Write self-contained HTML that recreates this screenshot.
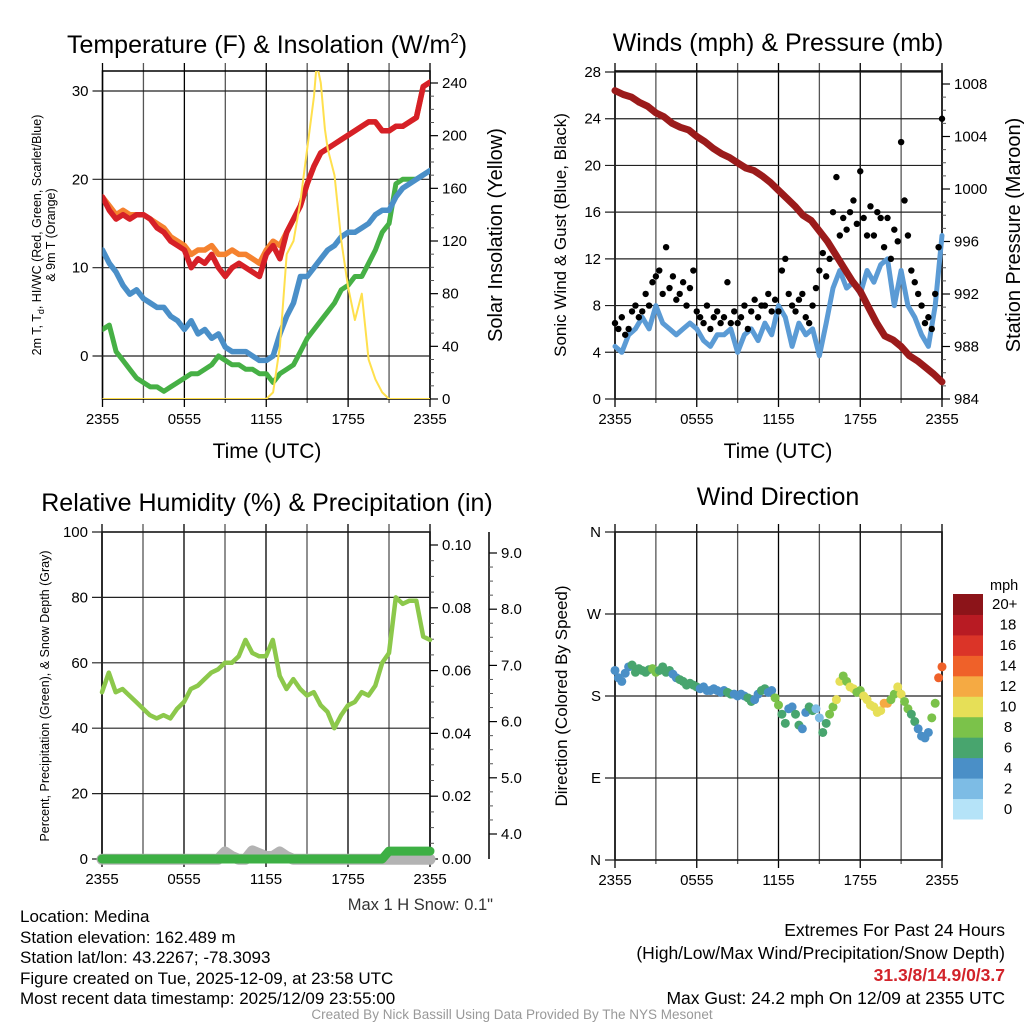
<!DOCTYPE html>
<html><head><meta charset="utf-8"><style>
body{margin:0;background:#fff}
svg{display:block;font-family:"Liberation Sans",Arial,sans-serif}
</style></head><body>
<svg id="c" width="1024" height="1024" viewBox="0 0 1024 1024" xmlns="http://www.w3.org/2000/svg">
<text x="267" y="53" font-size="25" text-anchor="middle">Temperature (F) &amp; Insolation (W/m<tspan dy="-10" font-size="15">2</tspan><tspan dy="10">)</tspan></text>
<text x="778" y="51" font-size="25" text-anchor="middle">Winds (mph) &amp; Pressure (mb)</text>
<text x="267" y="511" font-size="25" text-anchor="middle">Relative Humidity (%) &amp; Precipitation (in)</text>
<text x="778" y="505" font-size="25" text-anchor="middle">Wind Direction</text>
<text x="267" y="458" font-size="21" text-anchor="middle">Time (UTC)</text>
<text x="778" y="458" font-size="21" text-anchor="middle">Time (UTC)</text>
<text transform="translate(41,235) rotate(-90)" font-size="12.5" text-anchor="middle"><tspan x="0" dy="0">2m T, T<tspan font-size="9" dy="3">d</tspan><tspan dy="-3">, HI/WC (Red, Green, Scarlet/Blue)</tspan></tspan><tspan x="0" dy="14">&amp; 9m T (Orange)</tspan></text>
<text transform="translate(502,235) rotate(-90)" font-size="20" text-anchor="middle">Solar Insolation (Yellow)</text>
<text transform="translate(566,235) rotate(-90)" font-size="17" text-anchor="middle">Sonic Wind &amp; Gust (Blue, Black)</text>
<text transform="translate(1020,235) rotate(-90)" font-size="20" text-anchor="middle">Station Pressure (Maroon)</text>
<text transform="translate(49,696) rotate(-90)" font-size="12.5" text-anchor="middle">Percent, Precipitation (Green), &amp; Snow Depth (Gray)</text>
<text transform="translate(567,696) rotate(-90)" font-size="17" text-anchor="middle">Direction (Colored By Speed)</text>
<text x="493" y="910" font-size="16.5" text-anchor="end" fill="#333">Max 1 H Snow: 0.1"</text>
<g font-size="17">
<text x="20" y="922">Location: Medina</text>
<text x="20" y="943">Station elevation: 162.489 m</text>
<text x="20" y="963">Station lat/lon: 43.2267; -78.3093</text>
<text x="20" y="984">Figure created on Tue, 2025-12-09, at 23:58 UTC</text>
<text x="20" y="1004">Most recent data timestamp: 2025/12/09 23:55:00</text>
</g>
<g font-size="17.5" text-anchor="end">
<text x="1005" y="936">Extremes For Past 24 Hours</text>
<text x="1005" y="959">(High/Low/Max Wind/Precipitation/Snow Depth)</text>
<text x="1005" y="981" fill="#d2232a" font-weight="bold">31.3/8/14.9/0/3.7</text>
<text x="1005" y="1004">Max Gust: 24.2 mph On 12/09 at 2355 UTC</text>
</g>
<text x="512" y="1019" font-size="13.5" fill="#999" text-anchor="middle">Created By Nick Bassill Using Data Provided By The NYS Mesonet</text>
</svg>
<script>
// half-hourly series (49 points, 2355 -> 2355)
const tempRed=[18,16.5,15.5,16,15.5,16,16,15.5,14.5,14,13,12.5,12,10,11,10.5,11.5,10,9,10,10.5,10,9.5,9,11.5,12.5,11,14,15.5,17,19.5,21.5,23,23.5,24,24.5,25,25.5,26,26.5,26.5,25.5,25.5,26,26,26.5,27,30.5,31];
const temp9m=[18,17,16,16.5,16,16,16,15.5,15,14.5,13.5,13,12.5,11.5,12,12,12.5,11.5,11.5,12,11.5,11.5,11,10.5,12,13,12.5,14,15.5,17,19.5,21.5,23,23.5,24,24.5,25,25.5,26,26.5,26.5,25.5,25.5,26,26,26.5,27,30.5,31];
const dewBlue=[12,10.5,9.5,8,7,7.5,6.5,6,5.5,5.5,4.5,4,3,4,2.5,3,2,2.5,1,0.5,0.5,0.5,0,-0.5,-0.5,0,2.5,4.5,6,9,9,10,11,12,12.5,13.5,14,14,14.5,15,16,16.5,16.5,18,19,19.5,20,20.5,21];
const chillGreen=[3,3.5,0.5,-0.5,-1.5,-2.5,-3,-3.5,-3.5,-4,-3.5,-3,-2.5,-2,-2,-1.5,-1,0,-0.5,-1,-1,-1.5,-1.5,-2,-2,-3,-2,-1.5,-1,0.5,2,3,4,5,6,7.5,8,9,9,10.5,12,14,15,19.5,20,20,20,20.5,21];
const solarHours=[0,12,12.5,13,13.5,14,14.5,15,15.5,15.7,16,16.3,16.5,17,17.5,18,18.5,19,19.5,20,20.5,21,24];
const solarVals=[0,0,5,40,110,120,150,190,230,255,240,205,190,170,120,85,60,80,30,15,5,0,0];
const pressure=[1007.5,1007.2,1007,1006.6,1006.3,1005.8,1005.5,1005,1004.7,1004.5,1004,1003.6,1003.1,1002.7,1002.4,1002,1001.6,1001.4,1001,1000.5,999.9,999.3,998.7,998,997.6,996.8,996,995,994,993,992.2,991,989.8,988.8,988.5,988,987.3,986.9,986.4,985.9,985.3];
const pressHours=[0,0.6,1.2,1.8,2.4,3,3.6,4.2,4.8,5.4,6,6.6,7.2,7.8,8.4,9,9.6,10.2,10.8,11.4,12,12.6,13.2,13.8,14.4,15,15.6,16.2,16.8,17.4,18,18.6,19.2,19.8,20.4,21,21.6,22.2,22.8,23.4,24];
const windSpd=[4.5,4,5.5,6,7,6,8,6.5,6,5.5,6,6.5,6,5,4.5,5.5,5.5,6,4,5.5,6,5,6.5,5.5,8,7,4.5,6.5,5.5,6,3.7,6.5,9.5,11,9.5,10,9,11,10,11.5,12,8,11,8,7,5.5,4.5,8,14];
// 15-minute gusts (97 points)
const gusts=[6.5,6,7,5.5,6,7.5,8,7,7.5,9,8,10,10.5,11,9,13,9.5,10.5,8.5,9,10,8,9.5,11,7.5,7,6.5,8,6,7,7.5,6.5,7,10,6.5,7.5,6.5,7,8,6,7.5,8.5,7,8,8,9,7.5,8.5,7.5,11,12,9,8,7.5,8.5,9,7,6.5,8,9.5,11,12.5,10.5,12,16,19,14,15.5,14.5,16,17,15,19.5,15.5,14,16.5,14,16,15.5,13,15.5,12,14.5,13.5,22,17,14,11,10,9,8,6.5,7,6,9,13,24];
const windDir=[208,200,196,205,212,214,206,210,208,206,209,210,206,208,212,206,208,204,200,198,196,192,194,192,190,188,190,186,186,188,186,184,186,184,182,182,180,182,180,178,174,176,182,186,188,184,186,178,170,160,150,166,168,160,148,144,162,168,164,166,156,140,150,160,168,176,196,202,196,190,188,184,186,180,176,170,168,162,164,172,172,176,182,190,182,174,166,160,152,144,136,134,140,156,172,200,212];
const humidity=[51,57,51,52,50,48,46,44,43,44,43,46,48,52,53,55,57,58,60,60,62,67,63,62,62,67,56,52,55,52,50,51,47,45,40,44,47,48,51,50,53,60,63,80,78,79,79,68,67];
const precip=[0,0,0,0,0,0,0,0,0,0,0,0,0,0,0,0,0,0,0,0,0,0,0,0,0,0,0,0,0,0,0,0,0,0,0,0,0,0,0,0,0,0,0.0025,0.0025,0.0025,0.0025,0.0025,0.0025,0.0025];
const snowDepth=[3.55,3.55,3.55,3.55,3.55,3.55,3.55,3.55,3.55,3.55,3.55,3.55,3.55,3.55,3.55,3.55,3.55,3.55,3.68,3.6,3.55,3.55,3.7,3.65,3.6,3.6,3.68,3.6,3.55,3.55,3.55,3.55,3.55,3.55,3.55,3.55,3.55,3.55,3.55,3.55,3.55,3.55,3.55,3.55,3.55,3.55,3.55,3.55,3.55];
const tempTicks=[0,10,20,30];
const solarTicks=[0,40,80,120,160,200,240];
const windTicks=[0,4,8,12,16,20,24,28];
const pressTicks=[984,988,992,996,1000,1004,1008];
const rhTicks=[0,20,40,60,80,100];
const precipTicks=["0.00","0.02","0.04","0.06","0.08","0.10"];
const snowTicks=["4.0","5.0","6.0","7.0","8.0","9.0"];
const dirLabels=["N","E","S","W","N"];
const timeLabels=["2355","0555","1155","1755","2355"];
const speedBins=["0","2","4","6","8","10","12","14","16","18","20+"];
const speedColors=["#b5e3f8","#7dbce5","#4a8fc7","#48a56e","#7bc24a","#e6df57","#f5aa43","#ef6129","#db3428","#b81b23","#8c1419"];

const NS="http://www.w3.org/2000/svg";
const svg=document.getElementById('c');
function el(tag,attrs,parent){const e=document.createElementNS(NS,tag);for(const k in attrs)e.setAttribute(k,attrs[k]);(parent||svg).appendChild(e);return e;}
function lin(d0,d1,r0,r1){return v=>r0+(v-d0)*(r1-r0)/(d1-d0);}

function panel(x0,x1,y0,y1,name){
  const g=el('g',{});
  
  
  const xs=lin(0,24,x0,x1);
  for(let h=0;h<=24;h+=3){
    const l=el('line',{x1:xs(h),x2:xs(h),y1:y0-8,y2:y1+(h%6==0?8:4),stroke:h%6==0?'#000':'#555','stroke-width':1.3},g);
    
    
  }
  for(let i=0;i<timeLabels.length;i++){
    const t=el('text',{x:xs(i*6),y:y1+25,'font-size':15,'text-anchor':'middle'},g);
    
    
    t.textContent=timeLabels[i];
  }
  el('rect',{x:x0,y:y0,width:x1-x0,height:y1-y0,fill:'none',stroke:'#000','stroke-width':1.5},g);
  return {g,xs};
}
function leftAxis(g,x0,x1,ys,ticks,labels,grid){
  ticks.forEach((v,i)=>{
    const y=ys(v);
    if(grid){const l=el('line',{x1:x0-10,x2:x1,y1:y,y2:y,stroke:'#222','stroke-width':1.2},g);
      
      }
    const t=el('text',{x:x0-14,y:y+5,'font-size':15,'text-anchor':'end'},g);
    
    
    t.textContent=labels?labels[i]:v;
  });
}
function rightAxis(g,x,ys,ticks,labels,minor){
  ticks.forEach((v,i)=>{
    const y=ys(v);
    el('line',{x1:x,x2:x+8,y1:y,y2:y,stroke:'#000','stroke-width':1.2},g);
    if(minor&&i<ticks.length-1){for(let k=1;k<4;k++){const yy=y+(ys(ticks[i+1])-y)*k/4;el('line',{x1:x,x2:x+4,y1:yy,y2:yy,stroke:'#555','stroke-width':1},g);}}
    const t=el('text',{x:x+12,y:y+5,'font-size':15},g);
    
    
    t.textContent=labels?labels[i]:v;
  });
}
function path(g,xsArr,vals,xs,ys,color,w,name){
  let d='';vals.forEach((v,i)=>{d+=(i?'L':'M')+xs(xsArr[i]).toFixed(1)+','+ys(v).toFixed(1);});
  const p=el('path',{d,fill:'none',stroke:color,'stroke-width':w,'stroke-linejoin':'round','stroke-linecap':'round'},g);
  
  
  return p;
}
const half=humidity.map((_,i)=>i/2);
const quarter=gusts.map((_,i)=>i/4);

(function(){
  const x0=102.5,x1=430,y0=71,y1=399;
  const P=panel(x0,x1,y0,y1,'temperature-panel');
  const ys=lin(0,30,356,91), yr=lin(0,240,399,83);
  leftAxis(P.g,x0,x1,ys,tempTicks,null,true);
  rightAxis(P.g,x1,yr,solarTicks,null,true);
  const clip=el('clipPath',{id:'cp1'});el('rect',{x:x0,y:y0,width:x1-x0,height:y1-y0},clip);
  const d=el('g',{'clip-path':'url(#cp1)'});
  
  
  path(d,half,chillGreen,P.xs,ys,'#46b045',5,'wind-chill-line');
  path(d,half,dewBlue,P.xs,ys,'#4a8fc8',5.5,'dewpoint-line');
  path(d,half,temp9m,P.xs,ys,'#f5822f',5.5,'temp-9m-line');
  path(d,half,tempRed,P.xs,ys,'#d62027',5.5,'temp-2m-line');
  path(d,solarHours,solarVals,P.xs,yr,'#ffe04d',2,'solar-line');
})();

(function(){
  const x0=615,x1=942,y0=71,y1=399;
  const P=panel(x0,x1,y0,y1,'winds-panel');
  const ys=lin(0,28,399,72), yr=lin(984,1008,399,84);
  leftAxis(P.g,x0,x1,ys,windTicks,null,true);
  rightAxis(P.g,x1,yr,pressTicks,null,true);
  const d=el('g',{});
  
  
  path(d,half,windSpd,P.xs,ys,'#5b9bd5',5,'wind-speed-line');
  gusts.forEach((v,i)=>{
    const c=el('circle',{cx:P.xs(quarter[i]),cy:ys(v),r:3.2,fill:'#000'},d);
    
    
  });
  path(d,pressHours,pressure,P.xs,yr,'#9b1b1b',7,'pressure-line');
})();

(function(){
  const x0=102,x1=430,y0=532,y1=859;
  const P=panel(x0,x1,y0,y1,'humidity-panel');
  const ys=lin(0,100,859,532), yp=lin(0,0.10,859,545), ysn=lin(4,9,834,553);
  leftAxis(P.g,x0,x1,ys,rhTicks,null,true);
  rightAxis(P.g,x1,yp,precipTicks.map(Number),precipTicks,true);
  const ax=el('line',{x1:489,x2:489,y1:532,y2:859,stroke:'#000','stroke-width':1.5},P.g);
  
  
  rightAxis(P.g,489,ysn,snowTicks.map(Number),snowTicks,true);
  const d=el('g',{});
  
  
  path(d,half,snowDepth,P.xs,ysn,'#b3b3b3',11,'snow-depth-line');
  path(d,half,precip,P.xs,yp,'#3db044',9,'precip-line');
  path(d,half,humidity,P.xs,ys,'#8cc84b',4.5,'humidity-line');
})();

(function(){
  const x0=615,x1=942,y0=532,y1=860;
  const P=panel(x0,x1,y0,y1,'wind-direction-panel');
  const ys=lin(0,360,860,532);
  leftAxis(P.g,x0,x1,ys,[0,90,180,270,360],dirLabels,true);
  const d=el('g',{});
  
  
  windDir.forEach((v,i)=>{
    const s=windSpd[Math.min(48,Math.round(i/2))];
    const bin=Math.min(10,Math.floor(s/2));
    const c=el('circle',{cx:P.xs(quarter[i]),cy:ys(v),r:4.5,fill:speedColors[bin]},d);
    
    
  });
  const lg=el('g',{});
  
  
  const t0=el('text',{x:990,y:590,'font-size':14.5},lg);
  
  
  t0.textContent='mph';
  const h=(819-594)/11;
  speedBins.forEach((b,i)=>{
    const y=819-(i+1)*h;
    const r=el('rect',{x:953,y:y,width:30,height:h+0.5,fill:speedColors[i]},lg);
    
    
    const t=el('text',{x:b.length>2?992:1008,y:y+h/2+5,'font-size':15,'text-anchor':b.length>2?'start':'middle'},lg);
    
    
    t.textContent=b;
  });
})();
</script>
</body></html>
